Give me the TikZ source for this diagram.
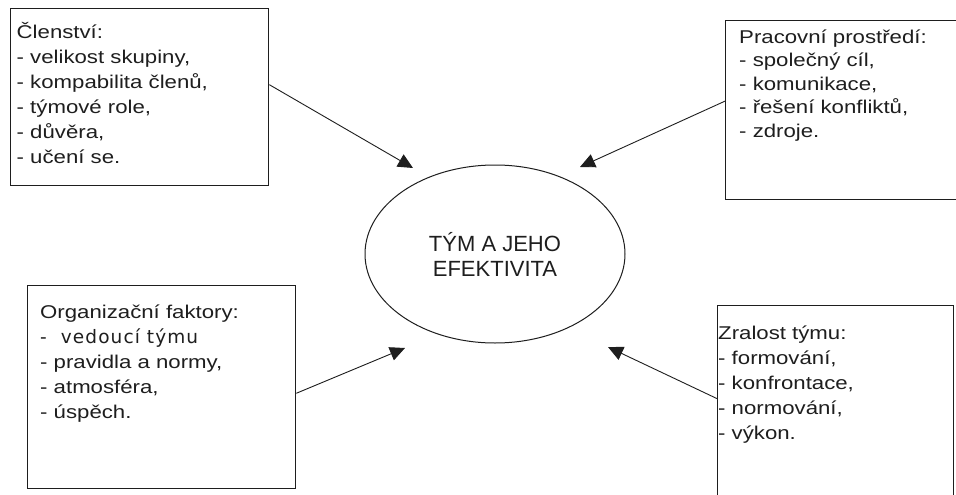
\documentclass[tikz,border=0pt]{standalone}
\usepackage{fontspec}
\setmainfont{Liberation Sans}
\newfontfamily\boxfont[FakeStretch=1.2]{Liberation Sans}
\newfontfamily\wideletters[LetterSpace=6]{DejaVu Sans}
\usetikzlibrary{arrows.meta,calc,shapes.geometric}
\definecolor{ink}{HTML}{1E1E1E}

\begin{document}
\begin{tikzpicture}[x=1pt,y=-1pt,
  frame/.style={draw=ink, line width=1.3pt, rectangle, inner sep=0pt, anchor=north west},
  % anchored at the baseline of the last line
  boxtext/.style={anchor=base west, align=left, inner sep=0pt, text=ink,
    font=\boxfont\fontsize{18.5pt}{25pt}\selectfont},
  centre/.style={draw=ink, line width=1pt, ellipse, inner sep=0pt,
    minimum width=260pt, minimum height=178pt, align=center, text=ink,
    font=\fontsize{22pt}{25pt}\selectfont},
  link/.style={draw=ink, line width=0.9pt, -{Triangle[length=15pt,width=14pt]}}]

\clip (0,0) rectangle (956,495);
\fill[white] (0,0) rectangle (956,495);

% the four factor boxes
\node[frame, minimum width=258pt, minimum height=177pt] (b1) at (10,8) {};
\node[frame, minimum width=260pt, minimum height=179pt] (b2) at (725,20) {};
\node[frame, minimum width=268pt, minimum height=203pt] (b3) at (27,285) {};
\node[frame, minimum width=236pt, minimum height=200pt] (b4) at (717,305) {};

% central ellipse
\node[centre] (c) at (495,254) {TÝM A JEHO\\EFEKTIVITA};

% box contents
\node[boxtext] (t1) at (16.5,163) {Členství:\\- velikost skupiny,\\- kompabilita členů,\\- týmové role,\\- důvěra,\\- učení se.};
\node[boxtext, font=\boxfont\fontsize{18.5pt}{23.5pt}\selectfont] (t2) at (739,137)
  {Pracovní prostředí:\\- společný cíl,\\- komunikace,\\- řešení konfliktů,\\- zdroje.};
\node[boxtext] (t3) at (40,418)
  {Organizační faktory:\\{\wideletters\fontsize{18.5pt}{25pt}\selectfont -\ \ vedoucí týmu}\\- pravidla a normy,\\- atmosféra,\\- úspěch.};
\node[boxtext] (t4) at (718,439) {Zralost týmu:\\- formování,\\- konfrontace,\\- normování,\\- výkon.};

% arrow tips near the ellipse
\coordinate (tip1) at (413,168);
\coordinate (tip2) at (580,167);
\coordinate (tip3) at (405,348);
\coordinate (tip4) at (608,347);

% connectors
\draw[link] ($(b1.north east)!0.43!(b1.south east)$) -- (tip1);
\draw[link] ($(b2.north west)!0.45!(b2.south west)$) -- (tip2);
\draw[link] ($(b3.north east)!0.53!(b3.south east)$) -- (tip3);
\draw[link] ($(b4.north west)!0.465!(b4.south west)$) -- (tip4);
\end{tikzpicture}
\end{document}
